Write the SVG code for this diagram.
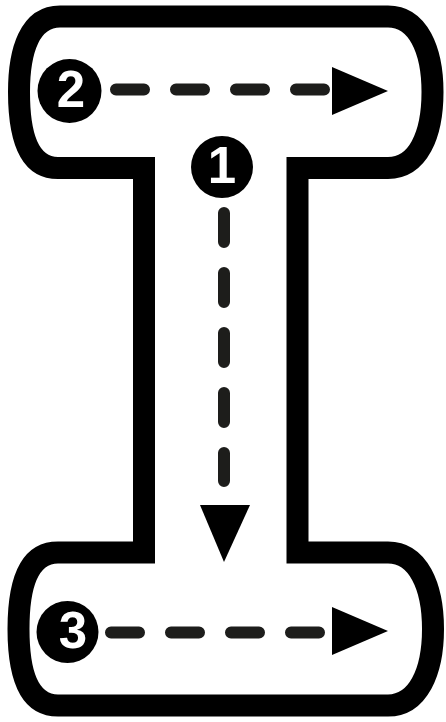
<svg xmlns="http://www.w3.org/2000/svg" width="446" height="722" viewBox="0 0 446 722">
<style>
.outline{fill:#fff;stroke:#000;stroke-width:22;stroke-linejoin:miter}
.dash{fill:none;stroke:#1d1d1b;stroke-width:12;stroke-linecap:round}
.head{fill:#000}
.badge{fill:#000}
.num{fill:#fff;font-family:"Liberation Sans",Arial,sans-serif;font-weight:bold;font-size:51px;text-anchor:middle}
</style>
<rect width="446" height="722" fill="#fff"/>
<g id="letter-outline">
<path class="outline" d="M 60 16.5 H 388 C 418 16.5 432.5 50 432.5 92 C 432.5 135 418 168 388 168 H 297.5 V 552.5 H 388 C 418 552.5 433 586 433 629 C 433 672 418 705.5 388 705.5 H 58 C 28 705.5 18.5 672 18.5 629 C 18.5 586 28 552.5 58 552.5 H 144 V 168 H 58 C 28 168 19 135 19 92 C 19 50 30 16.5 60 16.5 Z"/>
</g>
<g id="connectors">
<line class="dash" x1="116" y1="89.5" x2="324" y2="89.5" stroke-dasharray="28 32"/>
<polygon class="head" points="332,67 388,91 332,115"/>
<line class="dash" x1="224" y1="213" x2="224" y2="481" stroke-dasharray="29 31"/>
<polygon class="head" points="200,505 250,505 224,562"/>
<line class="dash" x1="111" y1="632.5" x2="319" y2="632.5" stroke-dasharray="28 32"/>
<polygon class="head" points="332,607 388,631 332,655"/>
</g>
<g id="step-1">
<circle class="badge" cx="222" cy="167" r="31"/>
<text class="num" x="222" y="183">1</text>
</g>
<g id="step-2">
<circle class="badge" cx="69.5" cy="91" r="32"/>
<text class="num" x="71" y="107">2</text>
</g>
<g id="step-3">
<circle class="badge" cx="67.5" cy="632" r="31"/>
<text class="num" x="73" y="648">3</text>
</g>
</svg>
